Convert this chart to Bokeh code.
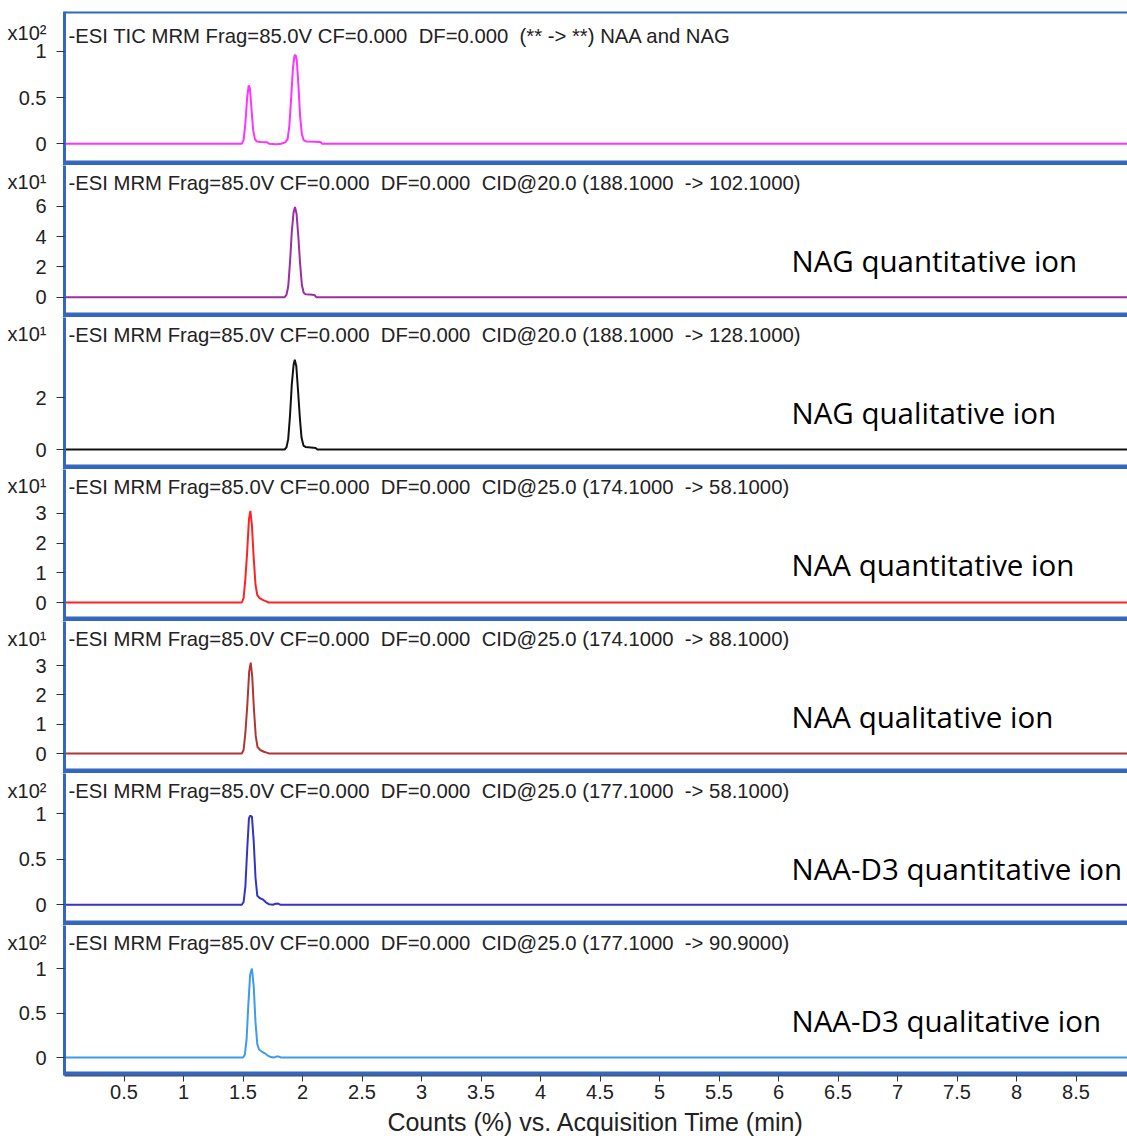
from bokeh.plotting import figure
from bokeh.models import Range1d, Label, BoxAnnotation, FixedTicker, NumeralTickFormatter
from bokeh.layouts import column
from bokeh.embed import file_html
from bokeh.resources import INLINE

# ---------------- data ----------------
SP2 = " \u00a0"  # a double space that survives rendering
titles = [
    "-ESI TIC MRM Frag=85.0V CF=0.000" + SP2 + "DF=0.000" + SP2 + "(** -> **) NAA and NAG",
    "-ESI MRM Frag=85.0V CF=0.000" + SP2 + "DF=0.000" + SP2 + "CID@20.0 (188.1000" + SP2 + "-> 102.1000)",
    "-ESI MRM Frag=85.0V CF=0.000" + SP2 + "DF=0.000" + SP2 + "CID@20.0 (188.1000" + SP2 + "-> 128.1000)",
    "-ESI MRM Frag=85.0V CF=0.000" + SP2 + "DF=0.000" + SP2 + "CID@25.0 (174.1000" + SP2 + "-> 58.1000)",
    "-ESI MRM Frag=85.0V CF=0.000" + SP2 + "DF=0.000" + SP2 + "CID@25.0 (174.1000" + SP2 + "-> 88.1000)",
    "-ESI MRM Frag=85.0V CF=0.000" + SP2 + "DF=0.000" + SP2 + "CID@25.0 (177.1000" + SP2 + "-> 58.1000)",
    "-ESI MRM Frag=85.0V CF=0.000" + SP2 + "DF=0.000" + SP2 + "CID@25.0 (177.1000" + SP2 + "-> 90.9000)",
]
scale_labels = ["x10\u00b2", "x10\u00b9", "x10\u00b9", "x10\u00b9", "x10\u00b9", "x10\u00b2", "x10\u00b2"]
annotations = [None, "NAG quantitative ion", "NAG qualitative ion", "NAA quantitative ion",
               "NAA qualitative ion", "NAA-D3 quantitative ion", "NAA-D3 qualitative ion"]
y_ticks = [[0, 0.5, 1], [0, 2, 4, 6], [0, 2], [0, 1, 2, 3], [0, 1, 2, 3], [0, 0.5, 1], [0, 0.5, 1]]
x_ticks = [0.5, 1, 1.5, 2, 2.5, 3, 3.5, 4, 4.5, 5, 5.5, 6, 6.5, 7, 7.5, 8, 8.5]
x_label = "Counts (%) vs. Acquisition Time (min)"

tic_t = [0.00, 1.49, 1.505, 1.52, 1.535, 1.548, 1.558, 1.57, 1.585, 1.60, 1.615, 1.65, 1.70, 1.72, 1.78,
         1.82, 1.855, 1.875, 1.89, 1.905, 1.92, 1.932, 1.942, 1.952, 1.965, 1.98, 1.995, 2.01, 2.03, 2.10,
         2.15, 2.165, 8.93]
tic_v = [0, 0, 0.04, 0.22, 0.50, 0.63, 0.60, 0.40, 0.15, 0.05, 0.025, 0.02, 0.018, 0.0, -0.004,
         0.0, 0.015, 0.05, 0.2, 0.5, 0.82, 0.95, 0.96, 0.9, 0.65, 0.3, 0.1, 0.04, 0.025, 0.022,
         0.02, 0.0, 0]

nag_quant_t = [0.00, 1.85, 1.865, 1.88, 1.895, 1.91, 1.925, 1.937, 1.95, 1.965, 1.98, 1.995, 2.01, 2.025,
               2.06, 2.10, 2.115, 8.93]
nag_quant_v = [0, 0, 0.15, 0.7, 2.3, 4.3, 5.6, 5.95, 5.5, 4.0, 2.2, 0.8, 0.3, 0.2, 0.18, 0.15, 0.0, 0]

nag_qual_t = [0.00, 1.85, 1.865, 1.88, 1.895, 1.91, 1.925, 1.935, 1.948, 1.962, 1.978, 1.992, 2.008,
              2.025, 2.07, 2.11, 2.125, 8.93]
nag_qual_v = [0, 0, 0.08, 0.4, 1.3, 2.5, 3.25, 3.45, 3.2, 2.3, 1.2, 0.45, 0.15, 0.1, 0.08, 0.06, 0.0, 0]

naa_quant_t = [0.00, 1.49, 1.505, 1.52, 1.535, 1.55, 1.562, 1.575, 1.59, 1.605, 1.62, 1.64, 1.67, 1.70,
               1.715, 8.93]
naa_quant_v = [0, 0, 0.15, 0.8, 1.7, 2.8, 3.09, 2.6, 1.5, 0.6, 0.25, 0.15, 0.08, 0.03, 0.0, 0]

naa_qual_t = [0.00, 1.49, 1.505, 1.52, 1.537, 1.552, 1.565, 1.578, 1.592, 1.607, 1.622, 1.645, 1.675,
              1.705, 1.72, 8.93]
naa_qual_v = [0, 0, 0.12, 0.7, 1.7, 2.8, 3.1, 2.6, 1.5, 0.6, 0.22, 0.12, 0.06, 0.02, 0.0, 0]

d3_quant_t = [0.00, 1.49, 1.505, 1.52, 1.535, 1.55, 1.56, 1.575, 1.59, 1.605, 1.62, 1.64, 1.665, 1.69,
              1.72, 1.75, 1.775, 1.795, 1.815, 8.93]
d3_quant_v = [0, 0, 0.03, 0.2, 0.6, 0.95, 0.98, 0.97, 0.7, 0.3, 0.1, 0.075, 0.06, 0.03, 0.005, 0,
              0.012, 0.013, 0, 0]

d3_qual_t = [0.00, 1.50, 1.515, 1.53, 1.545, 1.56, 1.575, 1.59, 1.605, 1.62, 1.635, 1.655, 1.68, 1.705,
             1.735, 1.76, 1.78, 1.80, 1.82, 8.93]
d3_qual_v = [0, 0, 0.03, 0.2, 0.6, 0.93, 1.0, 0.8, 0.4, 0.15, 0.09, 0.07, 0.05, 0.025, 0.005, 0,
             0.01, 0.01, 0, 0]

series_t = [tic_t, nag_quant_t, nag_qual_t, naa_quant_t, naa_qual_t, d3_quant_t, d3_qual_t]
series_v = [tic_v, nag_quant_v, nag_qual_v, naa_quant_v, naa_qual_v, d3_quant_v, d3_qual_v]

# ---------------- styling / layout (page pixels) ----------------
colors = ["#ff33ff", "#9a2f9e", "#111111", "#ff2222", "#b03535", "#3434c4", "#3d9be9"]
px_per_unit = [92.6, 15.17, 26.0, 29.67, 29.33, 91.0, 89.0]
zero_px = [143.3, 296.7, 449.0, 602.0, 753.0, 904.3, 1057.0]
W = 1127
LEFT = 64
PITCH = 152
PX_PER_MIN = 119.0
BLUE = "#3468c0"
TXT = "#222222"
FONT = "Liberation Sans"
BOTTOM_AXIS = 65

frame_top = [11] + [165 + PITCH * (k - 1) for k in range(1, 7)]
frame_bot = frame_top[1:] + [1075]

figs = []
for k in range(7):
    u = px_per_unit[k]
    Z = zero_px[k]
    T = frame_top[k]
    B = frame_bot[k]
    fig_top = 0 if k == 0 else T
    extra_top = T - fig_top
    extra_bottom = BOTTOM_AXIS if k == 6 else 0
    h = (B - fig_top) + extra_bottom

    def py(Y, Z=Z, u=u):
        return (Z - Y) / u

    def px(X):
        return (X - LEFT) / PX_PER_MIN

    y0 = py(B)
    y1 = py(T)
    p = figure(width=W, height=h,
               x_range=Range1d(0, (W - LEFT) / PX_PER_MIN),
               y_range=Range1d(y0, y1),
               output_backend="svg", toolbar_location=None,
               x_axis_location="below" if k == 6 else None,
               min_border_left=LEFT, min_border_right=0,
               min_border_top=extra_top, min_border_bottom=extra_bottom)
    p.outline_line_color = None
    p.xgrid.visible = False
    p.ygrid.visible = False
    p.background_fill_color = "white"
    p.border_fill_color = "white"

    # y axis: real ticks drawn as (minor) tick marks, the scale label "x10^n" as an extra major label
    x10_c = 32.5 if k == 0 else 182 + PITCH * (k - 1)
    x10_pos = round(py(x10_c), 4)
    ya = p.yaxis[0]
    ya.ticker = FixedTicker(ticks=y_ticks[k] + [x10_pos], minor_ticks=y_ticks[k])
    ya.formatter = NumeralTickFormatter(format="0.[0]")
    ya.major_label_overrides = {x10_pos: scale_labels[k]}
    ya.major_label_text_font = FONT
    ya.major_label_text_font_size = "20px"
    ya.major_label_text_color = TXT
    ya.major_tick_out = 0
    ya.major_tick_in = 0
    ya.minor_tick_out = 8
    ya.minor_tick_in = 0
    ya.minor_tick_line_color = "#333333"
    ya.minor_tick_line_width = 1
    ya.axis_line_color = BLUE
    ya.axis_line_width = 3
    ya.major_label_standoff = 10

    if k == 6:
        xa = p.xaxis[0]
        xa.ticker = FixedTicker(ticks=x_ticks)
        xa.formatter = NumeralTickFormatter(format="0.[0]")
        xa.major_label_text_font = FONT
        xa.major_label_text_font_size = "20px"
        xa.major_label_text_color = TXT
        xa.major_tick_out = 6
        xa.major_tick_in = 0
        xa.minor_tick_out = 0
        xa.minor_tick_in = 0
        xa.major_tick_line_color = "#333333"
        xa.axis_line_color = "#4a4a4a"
        xa.axis_line_width = 2
        xa.major_label_standoff = 3
        xa.axis_label = x_label
        xa.axis_label_text_font = FONT
        xa.axis_label_text_font_size = "25px"
        xa.axis_label_text_font_style = "normal"
        xa.axis_label_text_color = TXT
        xa.axis_label_standoff = 6

    # separator bar at the bottom of each panel, thin line on top of the first one
    bar = 4 if k == 6 else 5
    p.add_layout(BoxAnnotation(bottom=y0 - 1, top=py(B - bar), fill_color=BLUE, fill_alpha=1,
                               line_color=None))
    if k == 0:
        p.add_layout(BoxAnnotation(bottom=py(T + 2), top=y1 + 1, fill_color=BLUE, fill_alpha=1,
                                   line_color=None))

    p.line(series_t[k], series_v[k], line_color=colors[k], line_width=2)

    title_c = 35 if k == 0 else 182 + PITCH * (k - 1)
    p.add_layout(Label(x=px(68), y=py(title_c), text=titles[k], text_font=FONT,
                       text_font_size="20.3px", text_color=TXT, text_baseline="middle"))
    if annotations[k]:
        p.add_layout(Label(x=px(791), y=py(260 + PITCH * (k - 1)), text=annotations[k],
                           text_font="Open Sans", text_font_size="29.5px", text_color="#000000",
                           text_baseline="middle"))
    figs.append(p)

layout = column(*figs, spacing=0)
open("out.html", "w").write(file_html(layout, INLINE))
